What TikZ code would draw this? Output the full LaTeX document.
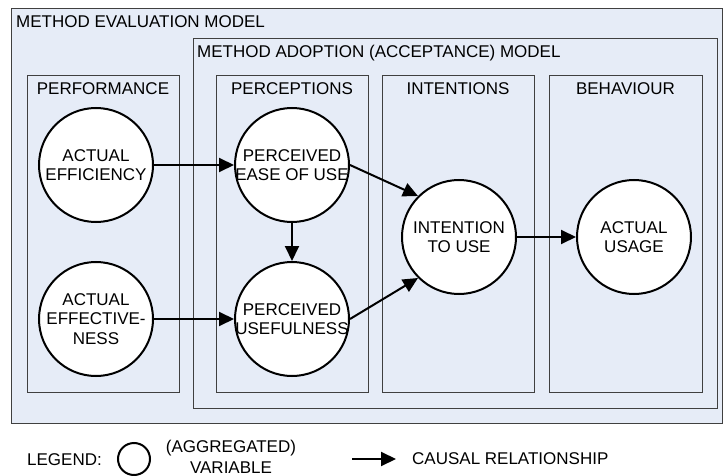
\documentclass[tikz,border=0pt]{standalone}
\usepackage{fontspec}
\setmainfont{Liberation Sans}
\usetikzlibrary{arrows.meta}
\definecolor{boxfill}{RGB}{230,236,247}
\tikzset{
  modelbox/.style={draw=black!75, fill=boxfill, line width=0.9pt},
  var/.style={circle, draw, fill=white, line width=2pt, minimum size=114pt, inner sep=0pt},
  vartext/.style={align=center, inner sep=0pt, font=\fontsize{17}{19.5}\selectfont},
  causal/.style={-{Triangle[length=15pt,width=14pt]}, line width=2pt},
  boxlabel/.style={anchor=base, inner sep=0pt, font=\fontsize{17}{20}\selectfont}
}
\begin{document}
\begin{tikzpicture}[x=1pt,y=-1pt]
  \useasboundingbox (0,0) rectangle (723,476);
  % evaluation model (outer frame)
  \draw[modelbox] (11,8) rectangle (722,423);
  \node[boxlabel, anchor=base west] (evallabel) at (16,28) {METHOD EVALUATION MODEL};
  % adoption model
  \draw[modelbox] (193,38) rectangle (717,408);
  \node[boxlabel, anchor=base west] (adoptlabel) at (197,58) {METHOD ADOPTION (ACCEPTANCE) MODEL};
  % four columns
  \foreach \name/\xl/\xr/\txt in {perf/27/179/PERFORMANCE, perc/216/368/PERCEPTIONS, intn/382/534/INTENTIONS, behv/549/702/BEHAVIOUR} {
    \draw[modelbox] (\xl,75) rectangle (\xr,392);
    \node[boxlabel] (\name) at ({(\xl+\xr)/2},95) {\txt};
  }
  % variables
  \foreach \name/\xx/\yy/\txt in {eff/96/165/{ACTUAL\\EFFICIENCY}, ease/292/165/{PERCEIVED\\EASE OF USE}, effn/96/319/{ACTUAL\\EFFECTIVE-\\NESS}, useful/292/319/{PERCEIVED\\USEFULNESS}, intent/459/237/{INTENTION\\TO USE}, usage/634/237/{ACTUAL\\USAGE}} {
    \node[var] (\name) at (\xx,\yy) {};
    \node[vartext] (\name-txt) at (\name) {\txt};
  }
  % causal links
  \draw[causal] (eff) -- (ease);
  \draw[causal] (effn) -- (useful);
  \draw[causal] (ease) -- (useful);
  \draw[causal] (ease.east) -- (intent.north west);
  \draw[causal] (useful.east) -- (intent.south west);
  \draw[causal] (intent) -- (usage);
  % legend
  \node[boxlabel, anchor=base west] (legend) at (27,465) {LEGEND:};
  \node[circle, draw, line width=2pt, minimum size=32pt, inner sep=0pt] (legvar) at (134,459) {};
  \node[vartext, font=\fontsize{17}{21}\selectfont] (legvartxt) at (231,457) {(AGGREGATED)\\VARIABLE};
  \coordinate (legfrom) at (352,459);
  \coordinate (legto) at (396,459);
  \draw[causal] (legfrom) -- (legto);
  \node[boxlabel, anchor=base west] (legcausal) at (412,464) {CAUSAL RELATIONSHIP};
\end{tikzpicture}
\end{document}
